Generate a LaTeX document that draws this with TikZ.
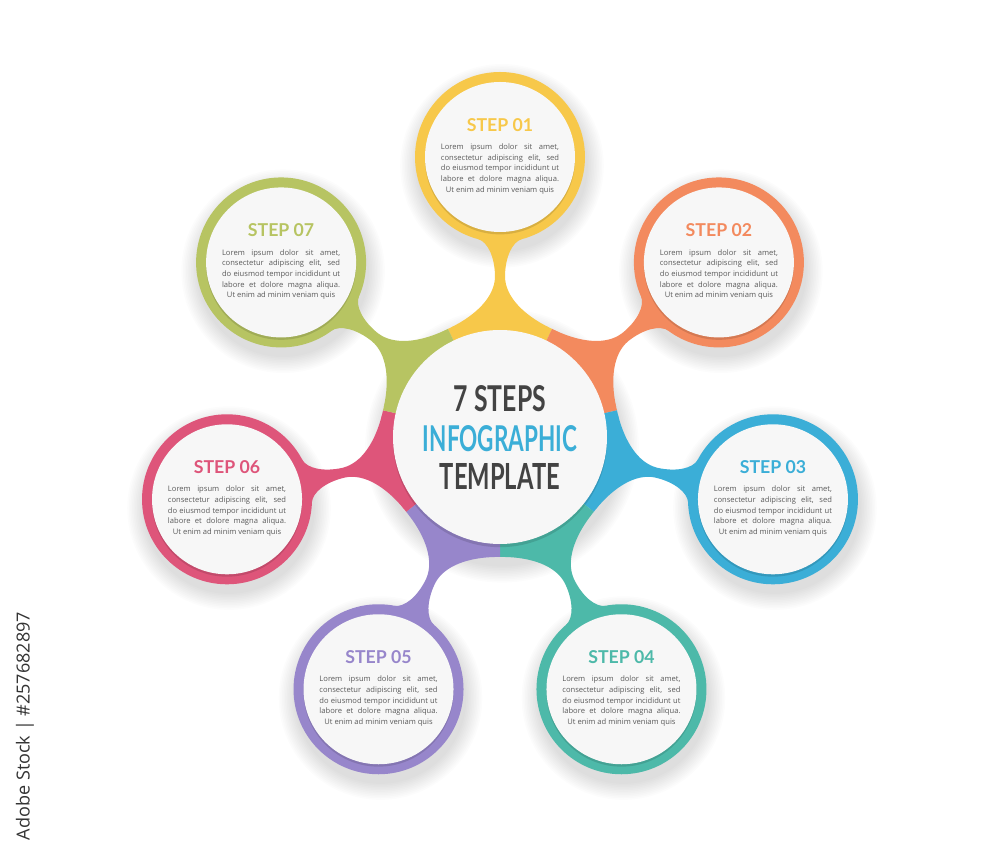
\documentclass[tikz,border=0pt]{standalone}
\usepackage{fontspec}
\setmainfont{Open Sans}
\newfontfamily\headfont{Lato}
\usetikzlibrary{calc}

\definecolor{cyellow}{HTML}{F7C84A}
\definecolor{corange}{HTML}{F38A5E}
\definecolor{cblue}{HTML}{3BAED7}
\definecolor{cteal}{HTML}{4DB9A9}
\definecolor{cpurple}{HTML}{9786CB}
\definecolor{cpink}{HTML}{DE557A}
\definecolor{cgreen}{HTML}{B7C462}
\definecolor{paper}{HTML}{F7F7F7}
\definecolor{loremgray}{HTML}{5A5A5A}
\definecolor{titlegray}{HTML}{434343}

\newcommand{\loremlines}{%
  \makebox[84pt][s]{Lorem ipsum dolor sit amet,}\\
  \makebox[84pt][s]{consectetur adipiscing elit, sed}\\
  \makebox[84pt][s]{do eiusmod tempor incididunt ut}\\
  \makebox[84pt][s]{labore et dolore magna aliqua.}\\
  Ut enim ad minim veniam quis}

\begin{document}
\begin{tikzpicture}[
  ring/.style={circle, inner sep=0pt, minimum size=4.25cm},
  disc/.style={circle, inner sep=0pt, minimum size=3.75cm, fill=paper},
  head/.style={inner sep=0pt, font=\headfont\bfseries\fontsize{12.6pt}{14pt}\selectfont},
  lorem/.style={inner sep=0pt, align=center, text=loremgray,
                font=\fontsize{5.4pt}{7.6pt}\selectfont},
  title/.style={inner sep=0pt, font=\headfont\bfseries},
  soft/.style={black, opacity=0.012}]
\fill[white] (-12.5,-10.325) rectangle (12.5,10.925);
\useasboundingbox (-12.5,-10.325) rectangle (12.5,10.925);

% soft shadows
\foreach \a in {90,38.571,-12.857,-64.286,-115.714,-167.143,141.429}
  \foreach \k in {0.02,0.06,...,0.42}
    \fill[soft] ($(\a:7)+(0.05,-0.22)$) circle ({2.125+\k});
\foreach \k in {0.02,0.06,...,0.42}
  \fill[soft] (0.05,-0.22) circle ({3+\k});

% necks and hub segments
\foreach \i/\a/\col in {1/90/cyellow, 2/38.571/corange, 3/-12.857/cblue,
    4/-64.286/cteal, 5/-115.714/cpurple, 6/-167.143/cpink, 7/141.429/cgreen}{
  \begin{scope}[rotate=\a]
    \fill[\col] (24:3) .. controls (3.05,0.6) and (3.5,0.1375) .. (4,0.125)
      .. controls (4.5,0.125) and (4.88,0.31) .. (4.95,0.55)
      -- (4.95,-0.55) .. controls (4.88,-0.31) and (4.5,-0.125) .. (4,-0.125)
      .. controls (3.5,-0.1375) and (3.05,-0.6) .. (-24:3) -- cycle;
  \end{scope}
  \fill[\col] (0,0) -- ({\a-25.714}:3)
    arc[start angle={\a-25.714}, end angle={\a+25.714}, radius=3] -- cycle;
}

% hub
\fill[black, opacity=0.12] (0,-0.08) circle (2.675);
\node[disc, minimum size=5.35cm] (hub) at (0,0) {};
\node[title, text=titlegray] (t1) at (0,0.9625) {\resizebox{2.3cm}{0.65cm}{7 STEPS}};
\node[title, text=cblue] (t2) at (0,-0.0375) {\resizebox{3.85cm}{0.65cm}{INFOGRAPHIC}};
\node[title, text=titlegray] (t3) at (0,-0.9875) {\resizebox{3cm}{0.65cm}{TEMPLATE}};

% step circles
\foreach \i/\a/\col in {1/90/cyellow, 2/38.571/corange, 3/-12.857/cblue,
    4/-64.286/cteal, 5/-115.714/cpurple, 6/-167.143/cpink, 7/141.429/cgreen}{
  \node[ring, fill=\col] (s\i) at (\a:7) {};
  \fill[black, opacity=0.12] ($(s\i)+(0,-0.06)$) circle (1.875);
  \node[disc] (w\i) at (s\i) {};
  \node[head, text=\col] (h\i) at ($(s\i)+(0,0.8)$) {STEP 0\i};
  \node[lorem] (l\i) at ($(s\i)+(0,-0.3)$) {\loremlines};
}

\node[rotate=90, inner sep=0pt, text=black!80] (stock) at (-11.875,-7.225)
  {\resizebox{5.7cm}{!}{Adobe Stock | \#257682897}};
\end{tikzpicture}
\end{document}
